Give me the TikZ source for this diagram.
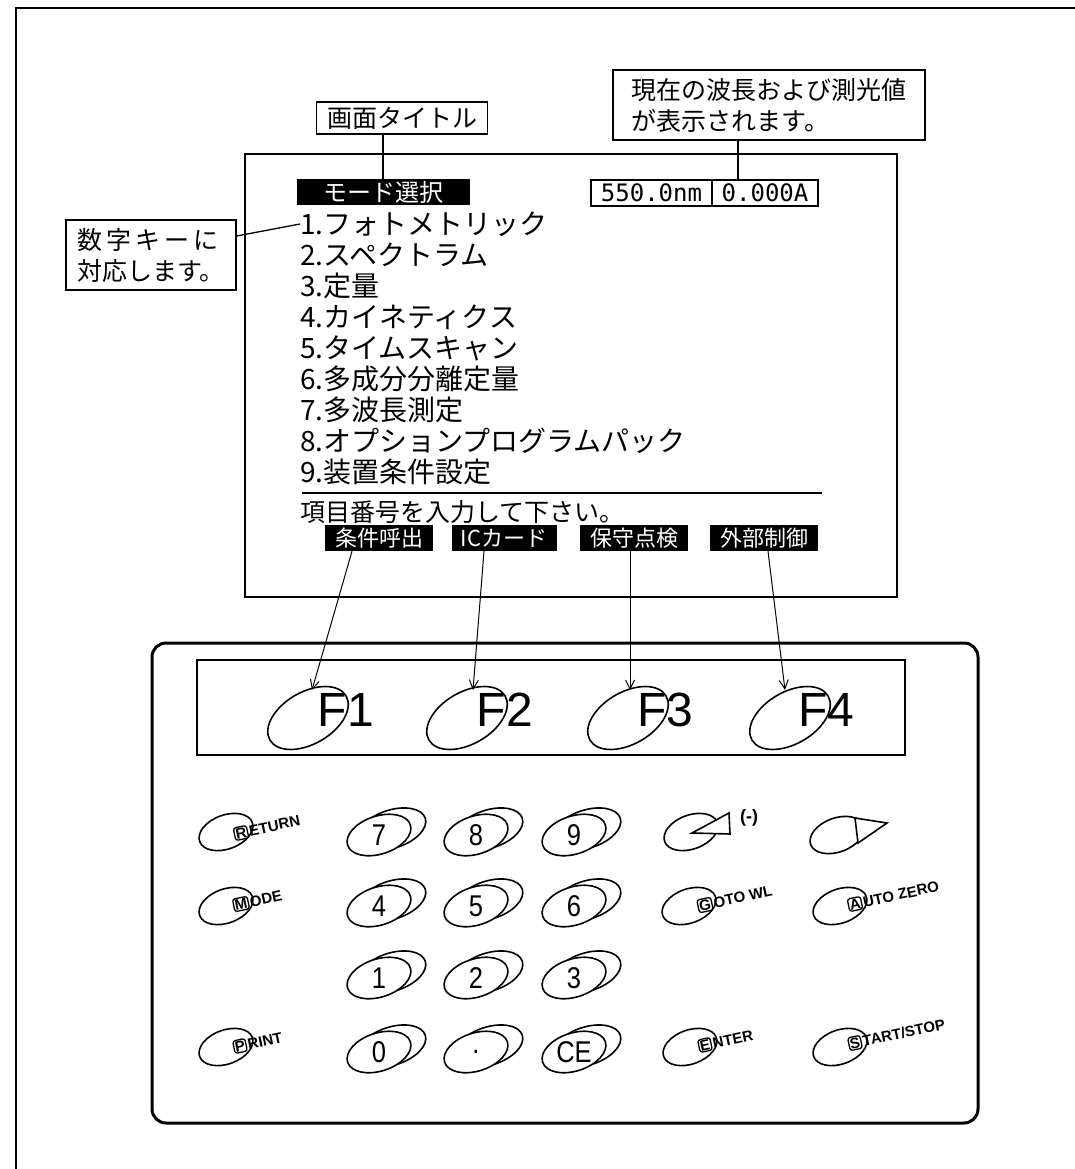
\documentclass[tikz,border=0pt]{standalone}
\usepackage{fontspec}
\usepackage{graphicx}
\setmainfont{Noto Sans CJK JP}
\newfontfamily\keyfont{Liberation Sans}
\newfontfamily\lcdfont{DejaVu Sans Mono}
\usetikzlibrary{shapes.geometric,arrows.meta}
\newcommand\nx[1]{\scalebox{0.85}[1]{#1}}
\begin{document}
\begin{tikzpicture}[x=1pt,y=-1pt,
  lbl/.style={draw, line width=1.4pt, inner sep=3pt, align=left, font=\fontsize{25}{31}\selectfont},
  blk/.style={fill=black, text=white, inner sep=0pt, minimum height=26pt, font=\fontsize{22}{24}\selectfont},
  menu/.style={anchor=west, inner sep=0pt, font=\fontsize{28}{30}\selectfont},
  lcd/.style={draw, line width=1.4pt, inner sep=0pt, minimum height=26pt, font=\lcdfont\fontsize{24}{24}\selectfont},
  fkey/.style={draw, line width=1.6pt, ellipse, minimum width=88pt, minimum height=52pt, inner sep=0pt, rotate=30},
  ftxt/.style={inner sep=0pt, font=\keyfont\fontsize{48}{48}\selectfont},
  numfront/.style={draw, fill=white, line width=1.6pt, ellipse, minimum width=66pt, minimum height=38pt, inner sep=0pt, rotate=18},
  numback/.style={draw, fill=white, line width=1.6pt, ellipse, minimum width=70pt, minimum height=38pt, inner sep=0pt, rotate=18},
  numtxt/.style={inner sep=0pt, font=\keyfont\fontsize{30}{30}\selectfont},
  fnkey/.style={draw, line width=1.6pt, ellipse, minimum width=56pt, minimum height=34pt, inner sep=0pt, rotate=20},
  fnbox/.style={draw, fill=white, line width=1.3pt, rounded corners=2.5pt, inner sep=1.2pt, rotate=12, font=\keyfont\bfseries\fontsize{15}{15}\selectfont},
  fntxt/.style={anchor=west, rotate=12, inner sep=0pt, xshift=1pt, font=\keyfont\bfseries\fontsize{15}{15}\selectfont},
  arr/.style={line width=1pt, -{Straight Barb[length=9pt,width=9pt]}}
]
\useasboundingbox (0,0) rectangle (1075,1169);
% outer frame
\draw[line width=2pt] (16,1169) -- (16,8) -- (1075,8);
% screen
\draw[line width=2pt] (245,154) rectangle (897,597);
% callouts
\node[lbl, minimum width=171pt, minimum height=32pt] (tt) at (402,118) {画面タイトル};
\node[lbl, minimum width=312pt, minimum height=70pt] (vb) at (769,105) {現在の波長および測光値\\が表示されます。};
\node[lbl, minimum width=170pt, minimum height=70pt] (lb) at (151,255) {数\,字\,キ\,ー\,に\\対応します。};
% screen contents
\node[blk, minimum width=173pt, font=\fontsize{24}{26}\selectfont] (tb) at (383,192) {モード選択};
\node[lcd, minimum width=121pt] (v1) at (651.5,193) {550.0nm};
\node[lcd, minimum width=106pt] (v2) at (765,193) {0.000A};
\node[menu] (m1) at (300,224) {1.フォトメトリック};
\node[menu] (m2) at (300,255) {2.スペクトラム};
\node[menu] (m3) at (300,286) {3.定量};
\node[menu] (m4) at (300,317) {4.カイネティクス};
\node[menu] (m5) at (300,348) {5.タイムスキャン};
\node[menu] (m6) at (300,379) {6.多成分分離定量};
\node[menu] (m7) at (300,410) {7.多波長測定};
\node[menu] (m8) at (300,441) {8.オプションプログラムパック};
\node[menu] (m9) at (300,472) {9.装置条件設定};
\draw[line width=2.5pt] (302,493) -- (822,493);
\node[menu, font=\fontsize{25}{28}\selectfont] (msg) at (300,512) {項目番号を入力して下さい。};
\node[blk, minimum width=108pt] (sk1) at (379,538) {条件呼出};
\node[blk, minimum width=105pt] (sk2) at (504,538) {ICカード};
\node[blk, minimum width=108pt] (sk3) at (634,538) {保守点検};
\node[blk, minimum width=108pt] (sk4) at (764,538) {外部制御};
% callout lines
\draw[line width=1.3pt] (tb.north) -- (tb.north |- tt.south);
\coordinate (vl) at ([xshift=-27pt]v2.north);
\draw[line width=1.3pt] (vl) -- (vl |- vb.south);
\coordinate (lbe) at ([yshift=19pt]lb.east);
\draw[line width=1.3pt] (lbe) -- (m1.west);
% keypad
\draw[line width=3pt, rounded corners=14pt] (152,643) rectangle (978,1123);
\draw[line width=1.6pt] (197,660) rectangle (905,755);
\node[fkey] (f1) at (308,718) {};
\node[fkey] (f2) at (467,718) {};
\node[fkey] (f3) at (628,718) {};
\node[fkey] (f4) at (790,718) {};
\node[ftxt] (f1t) at (346,710) {F1};
\node[ftxt] (f2t) at (505,710) {F2};
\node[ftxt] (f3t) at (665,710) {F3};
\node[ftxt] (f4t) at (826,710) {F4};
\coordinate (t1) at (312,690);
\coordinate (t2) at (473,690);
\coordinate (t3) at (630,690);
\coordinate (t4) at (785,690);
\draw[arr] ([xshift=-27pt]sk1.south) -- (t1);
\draw[arr] ([xshift=-20pt]sk2.south) -- (t2);
\draw[arr] ([xshift=-4pt]sk3.south) -- (t3);
\draw[arr] ([xshift=4pt]sk4.south) -- (t4);
% number keys
\foreach \n/\x/\y in {7/379/835, 8/476/835, 9/574/835, 4/379/906, 5/476/906, 6/574/906, 1/379/978, 2/476/978, 3/574/978, 0/379/1052, ./476/1052, CE/574/1052} {
  \node[numback] (kb\n) at (\x+13,\y-6) {};
  \node[numfront] (kf\n) at (\x,\y) {};
  \node[numtxt] (kt\n) at (\x,\y) {\nx{\n}};
}
% function keys
\node[fnkey] (kret) at (226,832) {};
\node[fnbox] (bret) at (241,833) {R};
\node[fntxt] (lret) at (bret.east) {ETURN};
\node[fnkey] (kmode) at (226,906) {};
\node[fnbox] (bmode) at (241,904) {M};
\node[fntxt] (lmode) at (bmode.east) {ODE};
\node[fnkey] (kprint) at (226,1047) {};
\node[fnbox] (bprint) at (240,1046) {P};
\node[fntxt] (lprint) at (bprint.east) {RINT};
\node[fnkey] (kgoto) at (689,906) {};
\node[fnbox] (bgoto) at (705,905) {G};
\node[fntxt] (lgoto) at (bgoto.east) {OTO WL};
\node[fnkey] (kauto) at (840,906) {};
\node[fnbox] (bauto) at (855,904) {A};
\node[fntxt] (lauto) at (bauto.east) {UTO ZERO};
\node[fnkey] (kent) at (690,1047) {};
\node[fnbox] (bent) at (705,1045) {E};
\node[fntxt] (lent) at (bent.east) {NTER};
\node[fnkey] (kstart) at (840,1047) {};
\node[fnbox] (bstart) at (855,1043) {S};
\node[fntxt] (lstart) at (bstart.east) {TART/STOP};
% arrow keys
\node[fnkey] (kleft) at (691,832) {};
\draw[line width=1.6pt, fill=white] (692,833) -- (729,813) -- (730,834) -- cycle;
\node[inner sep=0pt, font=\keyfont\bfseries\fontsize{18}{18}\selectfont] (lminus) at (749,818) {(-)};
\node[fnkey] (kright) at (837,835) {};
\draw[line width=1.6pt, fill=white] (855,818) -- (887,823) -- (858,843) -- cycle;
\end{tikzpicture}
\end{document}
